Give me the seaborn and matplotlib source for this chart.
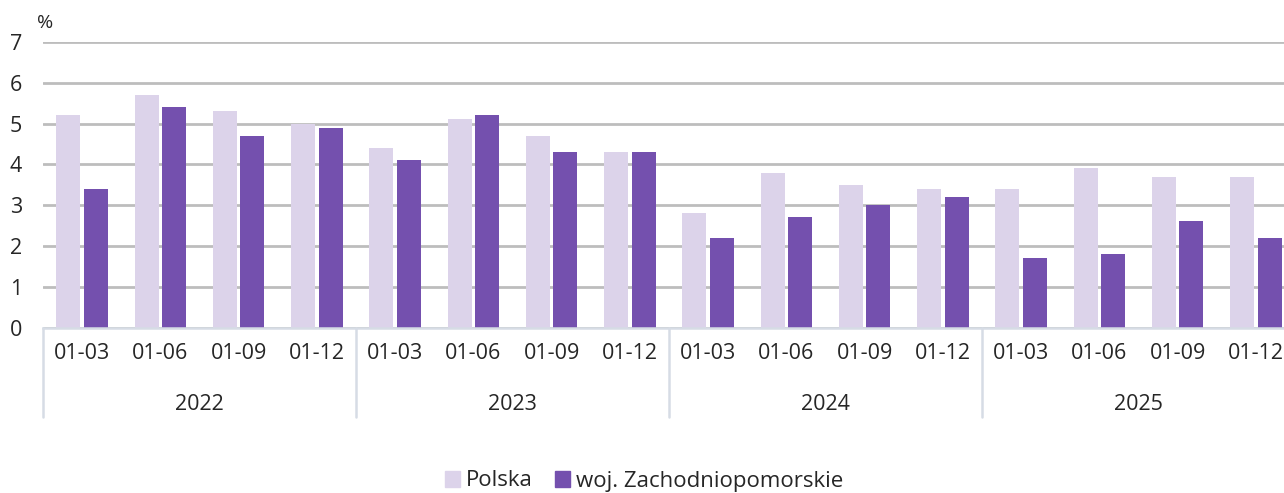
import matplotlib
matplotlib.use("Agg")
import matplotlib.pyplot as plt
import matplotlib.transforms as mtransforms
import seaborn as sns
import pandas as pd

years = ["2022", "2023", "2024", "2025"]
periods = ["01-03", "01-06", "01-09", "01-12"]
series_names = ["Polska", "woj. Zachodniopomorskie"]
polska = [5.2, 5.7, 5.3, 5.0, 4.4, 5.1, 4.7, 4.3, 2.8, 3.8, 3.5, 3.4, 3.4, 3.9, 3.7, 3.7]
zachodniopomorskie = [3.4, 5.4, 4.7, 4.9, 4.1, 5.2, 4.3, 4.3, 2.2, 2.7, 3.0, 3.2, 1.7, 1.8, 2.6, 2.2]
colors = ["#DCD3EA", "#7450AE"]

keys = [f"{y} {p}" for y in years for p in periods]
df = pd.DataFrame({
    "key": keys * 2,
    "value": polska + zachodniopomorskie,
    "series": [series_names[0]] * len(keys) + [series_names[1]] * len(keys),
})

sns.set_style("white")
plt.rcParams["font.family"] = ["Open Sans", "DejaVu Sans"]
text_color = "#262626"
fs = 15.5

W, H = 1284, 493
fig = plt.figure(figsize=(W / 100, H / 100), dpi=100)
ax_left = 43 / W
ax_bottom = 1 - 327.5 / H
ax_top = 1 - 42 / H
ax = fig.add_axes([ax_left, ax_bottom, 1 - ax_left, ax_top - ax_bottom])

sns.barplot(data=df, x="key", y="value", hue="series", order=keys,
            hue_order=series_names, palette=colors, saturation=1,
            width=0.7, gap=0.12, linewidth=0, ax=ax, legend=False)

cat_px = 313 / 4
ax.set_xlim(-0.5, -0.5 + (W - 43) / cat_px)
ax.set_ylim(0, 7)
ax.set_yticks(range(0, 8))
ax.set_yticklabels([str(i) for i in range(0, 8)], fontsize=fs, color=text_color)
ax.set_xticks(range(len(keys)))
ax.set_xticklabels(periods * len(years), fontsize=fs, color=text_color)
ax.tick_params(axis="x", length=0, pad=11)
ax.tick_params(axis="y", length=0, pad=15)
ax.set_xlabel("")
ax.set_ylabel("")

ax.grid(axis="y", color="#BDBDBD", linewidth=2)
ax.grid(axis="x", visible=False)
ax.set_axisbelow(True)
for s in ["top", "right", "left"]:
    ax.spines[s].set_visible(False)
ax.spines["bottom"].set_color("#D6DCE5")
ax.spines["bottom"].set_linewidth(1.8)

trans = mtransforms.blended_transform_factory(ax.transData, ax.transAxes)
ax_h_px = 327.5 - 42
sep_bottom = -(417 - 327.5) / ax_h_px
for i in range(len(years)):
    x0 = i * len(periods) - 0.5
    ax.plot([x0, x0], [0, sep_bottom], transform=trans, color="#D6DCE5",
            linewidth=1.8, clip_on=False)
    ax.text(x0 + len(periods) / 2, -(404 - 327.5) / ax_h_px, years[i],
            transform=trans, ha="center", va="center", fontsize=fs,
            color=text_color)

fig.text(37 / W, 1 - 23 / H, "%", fontsize=14, color=text_color,
         ha="left", va="center")

handles = [plt.Rectangle((0, 0), 1, 1, color=c) for c in colors]
fig.legend(handles, series_names, loc="center",
           bbox_to_anchor=(644 / W, 1 - 481 / H), ncol=2, frameon=False,
           fontsize=16, handlelength=0.7, handleheight=0.7,
           handletextpad=0.25, columnspacing=1.0, labelcolor=text_color)

fig.savefig("out.png", dpi=100)
